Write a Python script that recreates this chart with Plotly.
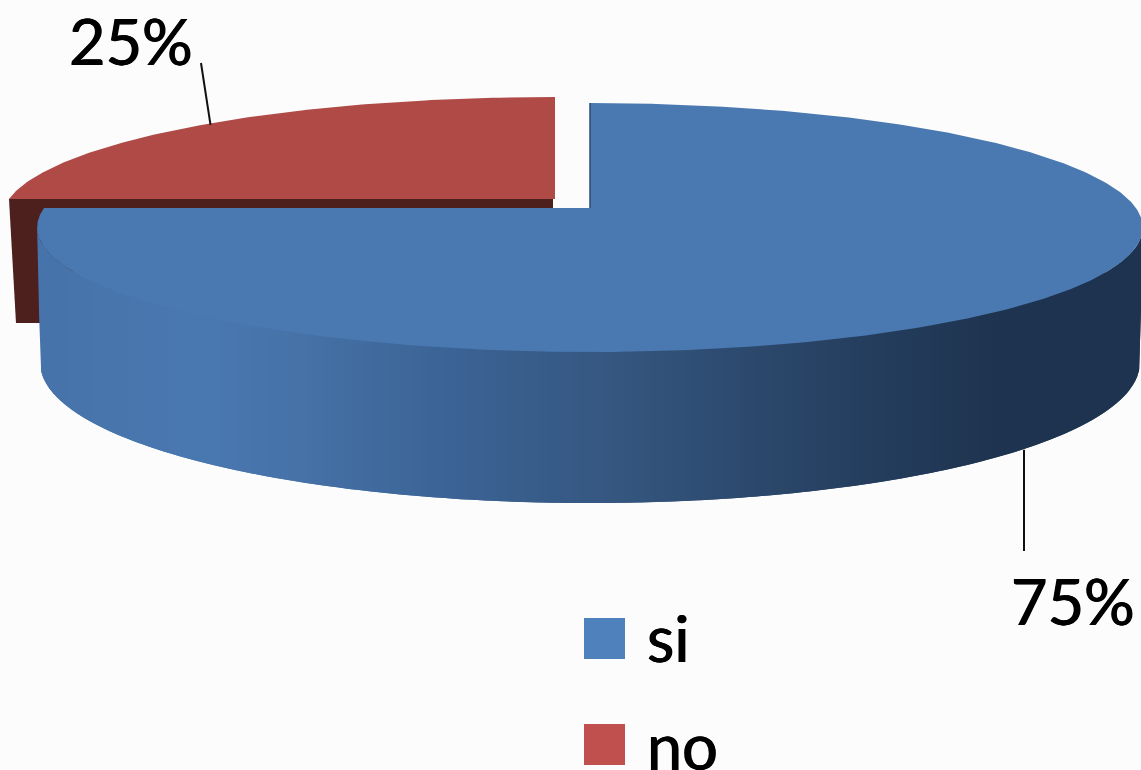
import numpy as np
import plotly.graph_objects as go

# ---- data ----
categories = ["si", "no"]
values = [75, 25]
legend_colors = ["#4f81bd", "#c0504d"]
top_colors = ["#4a78b0", "#af4a46"]
red_cut_color = "#4d1f1d"
blue_cut_color = "#2e4c70"
wall_stops_x = [36, 90, 200, 300, 440, 600, 800, 1000, 1141]
wall_stops_rgb = [(70, 115, 170), (72, 117, 172), (74, 120, 176), (70, 114, 168), (60, 100, 150),
                  (54, 88, 130), (41, 68, 102), (30, 51, 79), (30, 52, 80)]
BG = "#fcfcfc"

# ---- projection of the pie (perspective view of a disc) ----
K = 0.157


def project(theta, cx, cy, A, B):
    u, v = np.sin(theta), -np.cos(theta)
    d = 1 - K * v
    return cx + A * u / d, cy + B * v / d


BLUE_TOP = dict(cx=590, cy=208, A=546, B=121.4)
BLUE_BOT = dict(cx=590, cy=341, A=543, B=136.6)
RED_TOP = dict(cx=555, cy=199, A=546, B=118)
RED_BOT = dict(cx=553, cy=323, A=537, B=118)

total = sum(values)
si_end = 2 * np.pi * values[0] / total   # "si" sweeps clockwise from 12 o'clock
no_end = si_end + 2 * np.pi * values[1] / total
si_mid, no_mid = si_end / 2, (si_end + no_end) / 2

fig = go.Figure()


def poly(x, y, color, width=0):
    fig.add_trace(go.Scatter(x=list(x), y=list(y), mode="lines", fill="toself", fillcolor=color,
                             line=dict(color=color, width=width), hoverinfo="skip", showlegend=False))


# "no" slice: cut face, then top face
t = np.array([si_end])
x1, y1 = project(t, **RED_TOP)
x2, y2 = project(t, **RED_BOT)
poly([RED_TOP["cx"] - 2, x1[0], x2[0], RED_BOT["cx"]],
     [RED_TOP["cy"], y1[0], y2[0], RED_BOT["cy"]], red_cut_color)
t = np.linspace(si_end, no_end, 120)
x, y = project(t, **RED_TOP)
poly(np.r_[x, RED_TOP["cx"]], np.r_[y, RED_TOP["cy"]], top_colors[1])

# "si" slice: curved wall drawn as shaded strips, each overlapping the previous one
sil_r = np.arccos(-K)
sil_l = 2 * np.pi - sil_r
t = np.linspace(sil_r, sil_l, 400)
tx, ty = project(t, **BLUE_TOP)
bx, by = project(t, **BLUE_BOT)
# side edges of the wall join the silhouette points of both rims
low_x = np.r_[tx[-1], bx[::-1], tx[0]]
low_y = np.r_[ty[-1], by[::-1], ty[0]]
up_x, up_y = tx[::-1], ty[::-1]
edges = np.arange(tx.min(), 1146, 4.0)
for a in edges[:-1][::-1]:
    # draw right to left: each strip runs on to the right, under the strips painted later
    xs = np.linspace(a, a + 8.0, 5)
    xs = xs[xs <= tx.max()] if a + 8 > tx.max() else xs
    yu = np.interp(xs, up_x, up_y)
    yl = np.interp(xs, low_x, low_y)
    # tuck the strip under the top face so no seam shows along the rim
    if 70 < a < 1100:
        yu = yu - 8
    rgb = [np.interp(a + 2, wall_stops_x, [c[i] for c in wall_stops_rgb]) for i in range(3)]
    poly(np.r_[xs, xs[::-1]], np.r_[yu, yl[::-1]], "rgb(%d,%d,%d)" % tuple(rgb))

# top face of "si"
t = np.linspace(0, si_end, 400)
x, y = project(t, **BLUE_TOP)
poly(np.r_[x, BLUE_TOP["cx"]], np.r_[y, BLUE_TOP["cy"]], top_colors[0])
x, y = project(np.array([0.0]), **BLUE_TOP)
fig.add_trace(go.Scatter(x=[x[0], BLUE_TOP["cx"]], y=[y[0], BLUE_TOP["cy"]], mode="lines",
                         line=dict(color=blue_cut_color, width=1.5), hoverinfo="skip", showlegend=False))

# leader lines start on the rim at each slice's mid angle
lx, ly = project(np.array([no_mid]), **RED_TOP)
fig.add_trace(go.Scatter(x=[lx[0] + 3, 201], y=[ly[0] + 1, 63], mode="lines",
                         line=dict(color="#111111", width=2), hoverinfo="skip", showlegend=False))
lx, ly = project(np.array([si_mid]), **BLUE_BOT)
fig.add_trace(go.Scatter(x=[1024, 1024], y=[ly[0], 551], mode="lines",
                         line=dict(color="#111111", width=2), hoverinfo="skip", showlegend=False))

# legend swatches
fig.add_trace(go.Scatter(x=[604.5, 604.5], y=[638.5, 744.5], mode="markers",
                         marker=dict(symbol="square", size=41, color=legend_colors, line=dict(width=0)),
                         hoverinfo="skip", showlegend=False))

FONT = dict(family="Lato, Open Sans, sans-serif", size=63, color="#000000",
            shadow="0.6px 0 0 #000, -0.6px 0 0 #000")
anns = [
    dict(x=131, y=40, text=f"{values[1]}%", xanchor="center"),
    dict(x=1073, y=600, text=f"{values[0]}%", xanchor="center"),
    dict(x=645, y=637, text=categories[0], xanchor="left"),
    dict(x=645, y=745, text=categories[1], xanchor="left"),
]
for a in anns:
    a.update(showarrow=False, yanchor="middle", font=FONT, xref="x", yref="y")

fig.update_layout(
    width=1141, height=770, margin=dict(l=0, r=0, t=0, b=0),
    paper_bgcolor=BG, plot_bgcolor=BG, annotations=anns, showlegend=False,
    xaxis=dict(range=[0, 1141], visible=False, fixedrange=True),
    yaxis=dict(range=[770, 0], visible=False, fixedrange=True),
)
fig.write_html("out.html", config={"displayModeBar": False},
               post_script="document.body.style.margin='0';document.body.style.overflow='hidden';")
